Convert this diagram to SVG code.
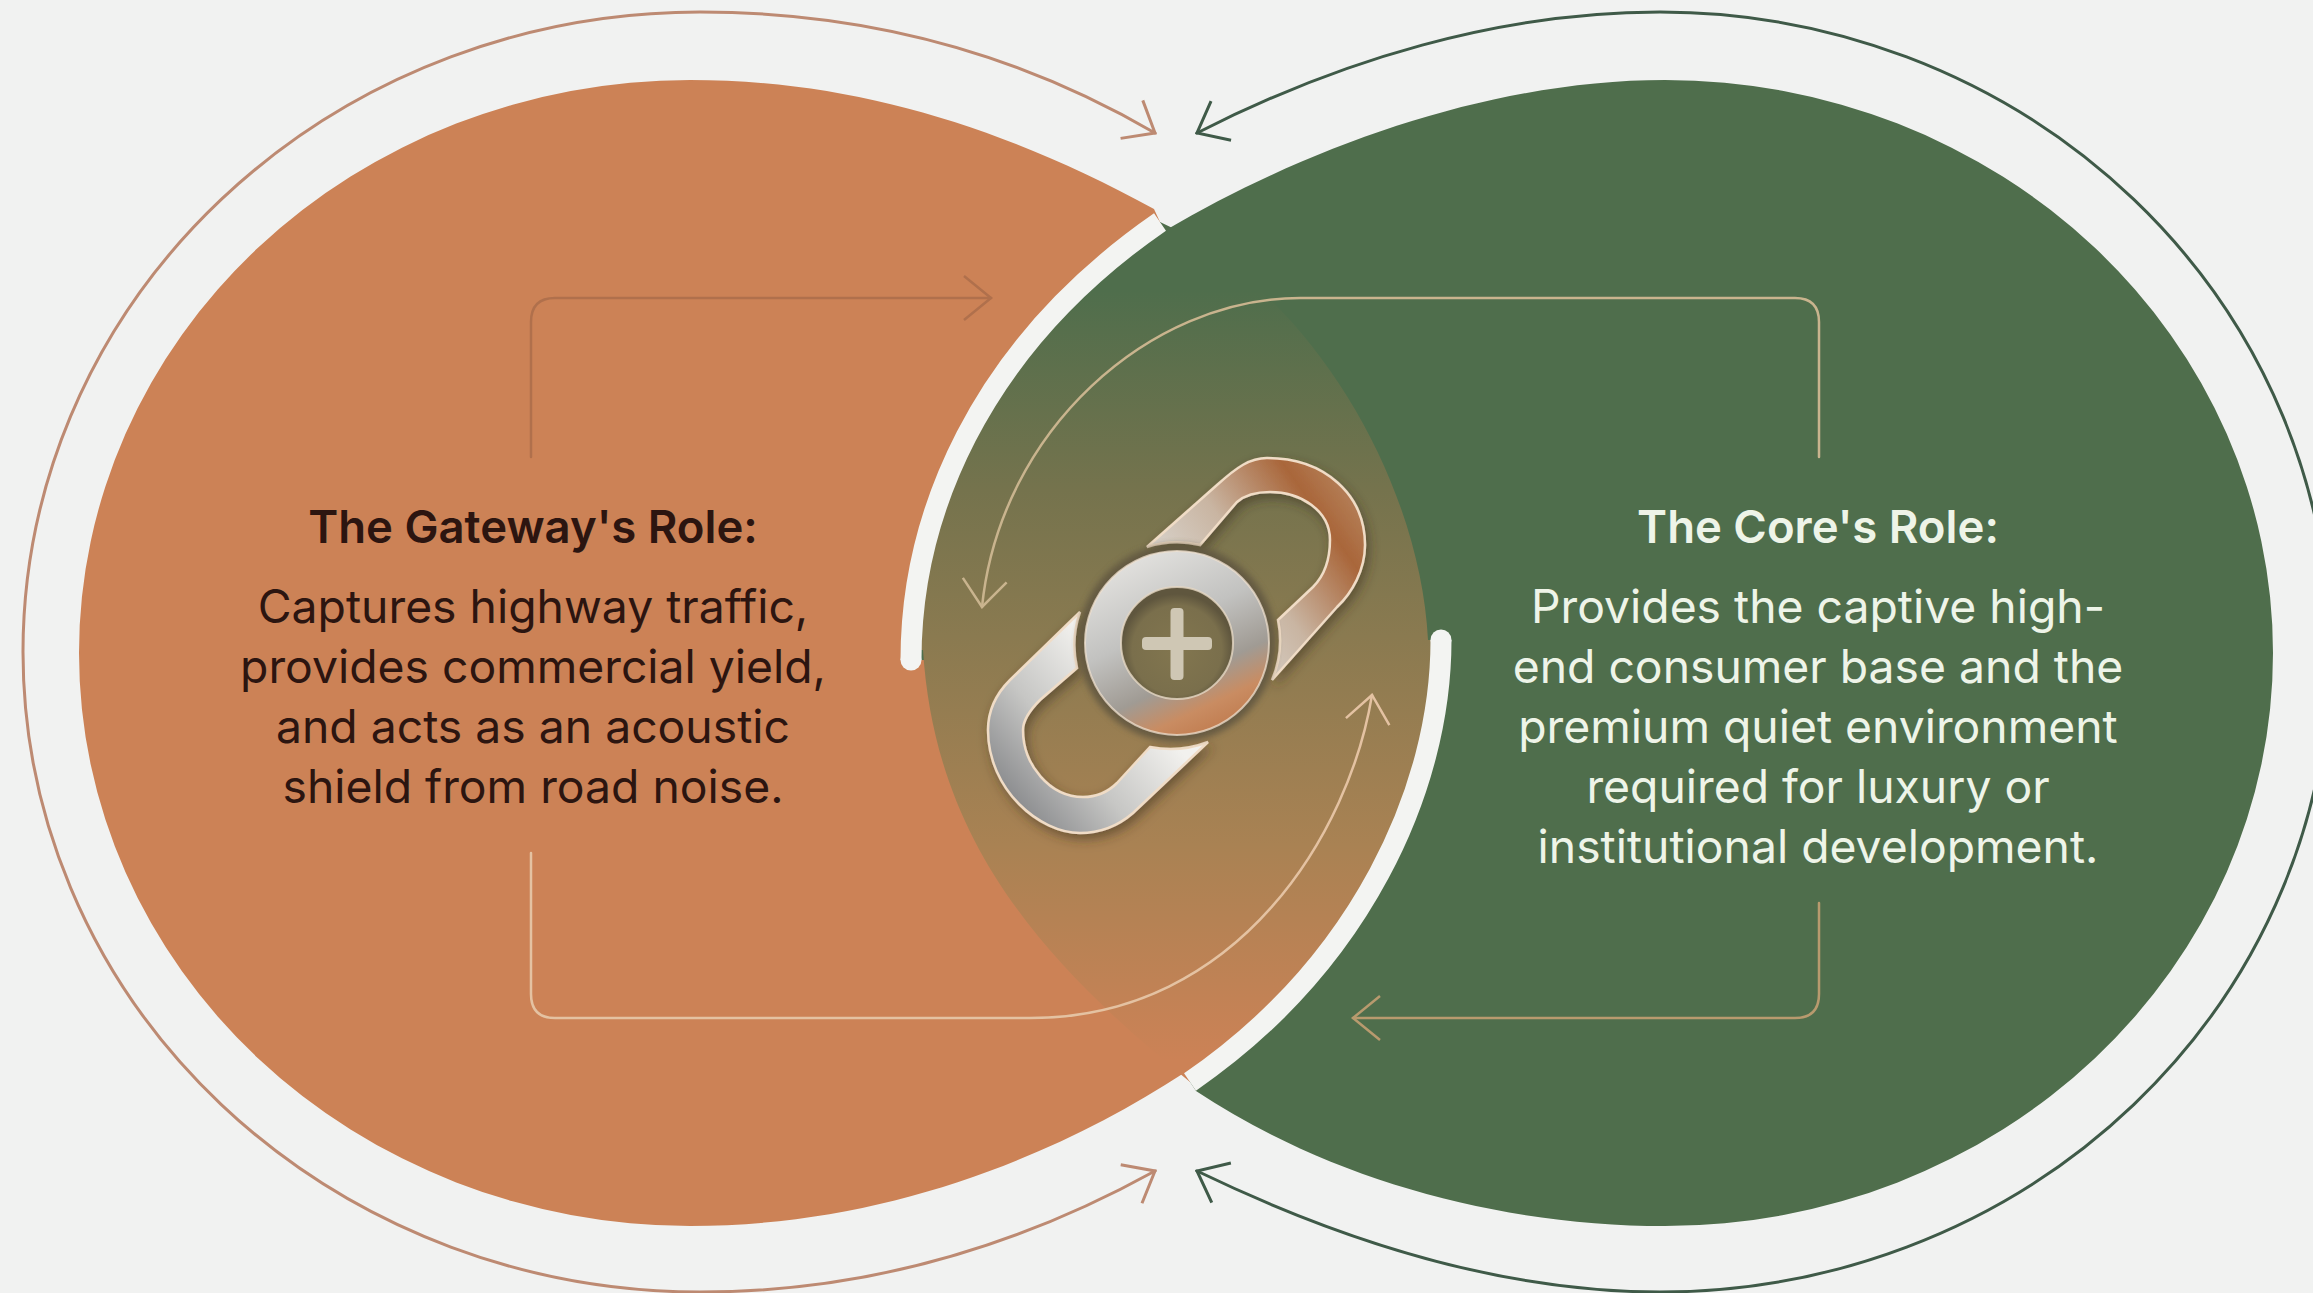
<svg xmlns="http://www.w3.org/2000/svg" width="2313" height="1293" viewBox="0 0 2313 1293">
<style>
.hd{font-family:Inter,"Liberation Sans",sans-serif;font-weight:600;font-size:45.500px;text-anchor:middle}
.bd{font-family:Inter,"Liberation Sans",sans-serif;font-weight:400;font-size:46.300px;text-anchor:middle}
.dk{fill:#2c1510}
.lt{fill:#eef4e8}
.band{fill:none;stroke:#f3f4f2;stroke-width:21}
.cap{fill:#f3f4f2}
.cn{fill:none;stroke-linecap:round;stroke-linejoin:round}
.link{stroke:#f0dcc6;stroke-width:2.5;filter:url(#sh)}
</style>
<defs>
<linearGradient id="lens" gradientUnits="userSpaceOnUse" x1="0" y1="290" x2="0" y2="1060">
<stop offset="0" stop-color="#4f6e4c"/><stop offset=".26" stop-color="#75734d"/><stop offset=".45" stop-color="#8a7a50"/><stop offset=".72" stop-color="#a98253"/><stop offset="1" stop-color="#cc8256"/>
</linearGradient>
<linearGradient id="up" gradientUnits="userSpaceOnUse" x1="1170" y1="610" x2="1340" y2="490">
<stop offset="0" stop-color="#dcdad5"/><stop offset=".45" stop-color="#c9b5a2"/><stop offset=".85" stop-color="#a9663a"/><stop offset="1" stop-color="#b27a52"/>
</linearGradient>
<linearGradient id="low" gradientUnits="userSpaceOnUse" x1="1010" y1="790" x2="1130" y2="690">
<stop offset="0" stop-color="#8f9092"/><stop offset=".45" stop-color="#c6c6c4"/><stop offset="1" stop-color="#f2f1ee"/>
</linearGradient>
<linearGradient id="ring" gradientUnits="userSpaceOnUse" x1="1130" y1="555" x2="1215" y2="735">
<stop offset="0" stop-color="#e3e2df"/><stop offset=".4" stop-color="#c2c2c0"/><stop offset=".68" stop-color="#a09b94"/><stop offset=".85" stop-color="#c98c62"/><stop offset="1" stop-color="#c07b4e"/>
</linearGradient>
<radialGradient id="hole" gradientUnits="userSpaceOnUse" cx="1177" cy="650" r="56">
<stop offset="0" stop-color="#82764f"/><stop offset=".8" stop-color="#7a6f4c"/><stop offset="1" stop-color="#5f563e"/>
</radialGradient>
<filter id="sh" x="-20%" y="-20%" width="140%" height="140%"><feDropShadow dx="3" dy="5" stdDeviation="6" flood-color="#3a2f1c" flood-opacity=".55"/></filter>
<filter id="bl" x="-20%" y="-20%" width="140%" height="140%"><feGaussianBlur stdDeviation="3"/></filter>
<marker id="mO" markerUnits="userSpaceOnUse" orient="auto-start-reverse" refX="0" refY="0" overflow="visible"><path d="M-27 -22L0 0L-27 22" fill="none" stroke="#bd8a72" stroke-width="3"/></marker>
<marker id="mG" markerUnits="userSpaceOnUse" orient="auto-start-reverse" refX="0" refY="0" overflow="visible"><path d="M-27 -22L0 0L-27 22" fill="none" stroke="#3f5a48" stroke-width="3"/></marker>
<marker id="m1" markerUnits="userSpaceOnUse" orient="auto" refX="0" refY="0" overflow="visible"><path d="M-27 -22L0 0L-27 22" fill="none" stroke="#b0704c" stroke-width="2.5"/></marker>
<marker id="m2" markerUnits="userSpaceOnUse" orient="auto" refX="0" refY="0" overflow="visible"><path d="M-27 -22L0 0L-27 22" fill="none" stroke="#c9b48e" stroke-width="2.5"/></marker>
<marker id="m3" markerUnits="userSpaceOnUse" orient="auto" refX="0" refY="0" overflow="visible"><path d="M-27 -22L0 0L-27 22" fill="none" stroke="#e4c2a2" stroke-width="2.5"/></marker>
<marker id="m4" markerUnits="userSpaceOnUse" orient="auto" refX="0" refY="0" overflow="visible"><path d="M-27 -22L0 0L-27 22" fill="none" stroke="#b89a6e" stroke-width="2.5"/></marker>
</defs>
<rect width="2313" height="1293" fill="#f1f2f1"/>
<g id="node-core">
<path d="M1196 1091C1330 1180 1500 1226 1665 1226A608 573 0 0 0 1665 80C1500 80 1320 140 1166 230L1160 222C975 350 911 520 911 660Z" fill="#4f6e4c"/>
</g>
<g id="node-gateway">
<path d="M1154 209C1000 125 850 80 690 80A611 573 0 0 0 690 1226C880 1226 1050 1160 1184 1073L1190 1082C1360 965 1441 790 1441 660L911 660C911 520 975 350 1160 222Z" fill="#cc8256"/>
</g>
<g id="node-overlap">
<path d="M911 650C911 520 975 350 1160 222C1310 290 1420 480 1428 640L1441 640C1441 790 1360 965 1190 1082C1040 960 935 840 923 650Z" fill="url(#lens)"/>
<path class="band" d="M911 660C911 520 975 350 1160 222"/>
<circle class="cap" cx="911" cy="660" r="10.500"/>
<path class="band" d="M1441 640C1441 790 1360 965 1190 1082"/>
<circle class="cap" cx="1441" cy="640" r="10.500"/>
</g>
<g id="connectors">
<path class="cn" stroke="#bd8a72" stroke-width="3" marker-start="url(#mO)" marker-end="url(#mO)" d="M1155 133C1030 60 880 12 700 12A677 640 0 0 0 700 1292C880 1292 1030 1240 1155 1171"/>
<path class="cn" stroke="#3f5a48" stroke-width="3" marker-start="url(#mG)" marker-end="url(#mG)" d="M1197 133C1340 60 1500 12 1660 12A670 640 0 0 1 1660 1292C1500 1292 1340 1240 1197 1171"/>
<path class="cn" stroke="#b0704c" stroke-width="2.500" marker-end="url(#m1)" d="M531 457V322Q531 298 555 298H991"/>
<path class="cn" stroke="#c9b48e" stroke-width="2.500" marker-end="url(#m2)" d="M1819 457V322Q1819 298 1795 298H1300C1150 298 1000 430 982 607"/>
<path class="cn" stroke="#e4c2a2" stroke-width="2.500" marker-end="url(#m3)" d="M531 853V994Q531 1018 555 1018H1030C1240 1018 1350 830 1372 695"/>
<path class="cn" stroke="#b89a6e" stroke-width="2.500" marker-end="url(#m4)" d="M1819 903V994Q1819 1018 1795 1018H1353"/>
</g>
<g id="node-link">
<path class="link" fill="url(#up)" d="M1147 547L1217 485C1237 467 1250 458 1267 458C1325 458 1365 495 1365 545C1365 570 1352 593 1337 607L1272 680A102 102 0 0 0 1278 620L1313 587C1325 575 1330 558 1330 540C1330 510 1300 492 1270 492C1255 492 1245 495 1237 502L1200 545A101 101 0 0 0 1147 547Z"/>
<path class="link" fill="url(#low)" d="M1080 612L1010 680C995 695 988 712 988 730C988 790 1040 833 1080 833C1100 833 1118 826 1133 813L1208 742A105 105 0 0 1 1150 747L1117 783C1107 793 1095 797 1083 797C1050 797 1023 765 1023 730C1023 720 1030 710 1040 700L1077 668A102 102 0 0 1 1080 612Z"/>
<circle cx="1177" cy="643" r="99" fill="#5f5540" opacity=".85" filter="url(#bl)"/>
<circle cx="1177" cy="643" r="56" fill="url(#hole)"/>
<circle cx="1177" cy="643" r="74" fill="none" stroke="url(#ring)" stroke-width="36"/>
<circle cx="1177" cy="643" r="92" fill="none" stroke="#efe0cf" stroke-opacity=".75" stroke-width="2"/>
<circle cx="1177" cy="643" r="56" fill="none" stroke="#e6d8c4" stroke-opacity=".8" stroke-width="2"/>
<rect x="1142" y="637" width="70" height="13" rx="4" fill="#cfc7b4"/>
<rect x="1170.500" y="608" width="13" height="72" rx="4" fill="#cfc7b4"/>
</g>
<g id="label-gateway">
<text class="hd dk" x="533" y="543">The Gateway's Role:</text>
<text class="bd dk" x="533" y="623">Captures highway traffic,</text>
<text class="bd dk" x="533" y="683">provides commercial yield,</text>
<text class="bd dk" x="533" y="743">and acts as an acoustic</text>
<text class="bd dk" x="533" y="803">shield from road noise.</text>
</g>
<g id="label-core">
<text class="hd lt" x="1818" y="543">The Core's Role:</text>
<text class="bd lt" x="1818" y="623">Provides the captive high-</text>
<text class="bd lt" x="1818" y="683">end consumer base and the</text>
<text class="bd lt" x="1818" y="743">premium quiet environment</text>
<text class="bd lt" x="1818" y="803">required for luxury or</text>
<text class="bd lt" x="1818" y="863">institutional development.</text>
</g>
</svg>
